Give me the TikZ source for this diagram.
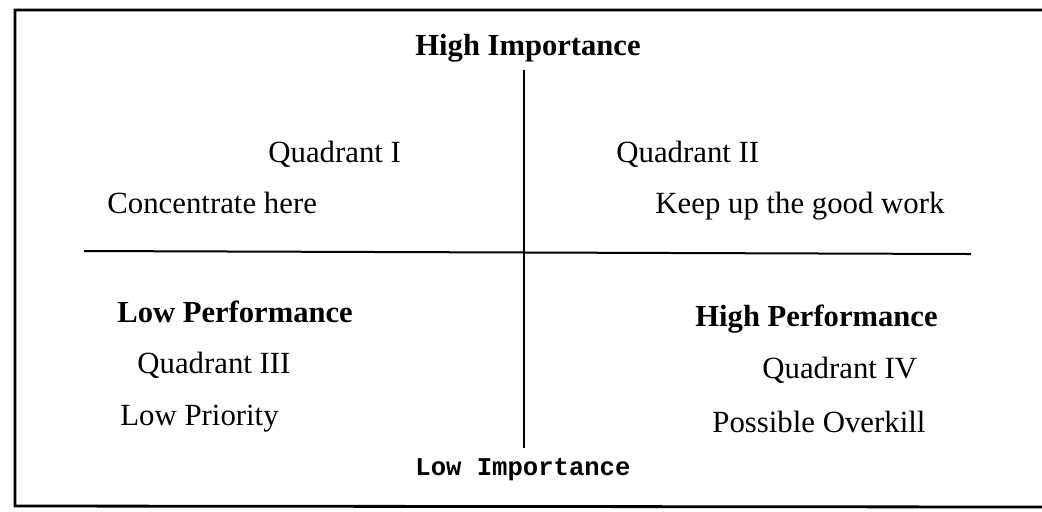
\documentclass[tikz,border=0pt]{standalone}
\usepackage{fontspec}
\setmainfont{Liberation Serif}
\setmonofont{Liberation Mono}
\begin{document}
\begin{tikzpicture}[x=0.5pt,y=-0.5pt,
  lbl/.style={anchor=base west,inner sep=0pt,font=\fontsize{15.4}{18}\selectfont},
  hdr/.style={anchor=base west,inner sep=0pt,font=\fontsize{15.3}{18}\selectfont\bfseries},
  mono/.style={anchor=base west,inner sep=0pt,font=\fontsize{12.8}{15}\selectfont\ttfamily\bfseries},
  frame/.style={line width=1.4pt},
  axis/.style={line width=1pt}]
\useasboundingbox (0,0) rectangle (1042,511);
% frame
\coordinate (ftr) at (1042,10);
\coordinate (ftl) at (15,10);
\coordinate (fbl) at (15,506);
\coordinate (fbr) at (1042,507);
\draw[frame] (ftr) -- (ftl) -- (fbl) -- (fbr);
% axes
\coordinate (vt) at (524,70);
\coordinate (vb) at (524,448);
\coordinate (hl) at (84,251);
\coordinate (hr) at (971,254);
\draw[axis] (vt) -- (vb);
\draw[axis] (hl) -- (hr);
% labels
\node[hdr] (hi) at (415,55) {High Importance};
\node[lbl] (q1) at (268,162) {Quadrant I};
\node[lbl] (q2) at (616,162) {Quadrant II};
\node[lbl] (c1) at (107,213) {Concentrate here};
\node[lbl] (c2) at (655,213) {Keep up the good work};
\node[hdr] (lp) at (117,322) {Low Performance};
\node[hdr] (hp) at (695,326) {High Performance};
\node[lbl] (q3) at (137,373) {Quadrant III};
\node[lbl] (q4) at (762,378) {Quadrant IV};
\node[lbl] (c3) at (120,425) {Low Priority};
\node[lbl] (c4) at (712,432) {Possible Overkill};
\node[mono] (li) at (415,475) {Low Importance};
\end{tikzpicture}
\end{document}
